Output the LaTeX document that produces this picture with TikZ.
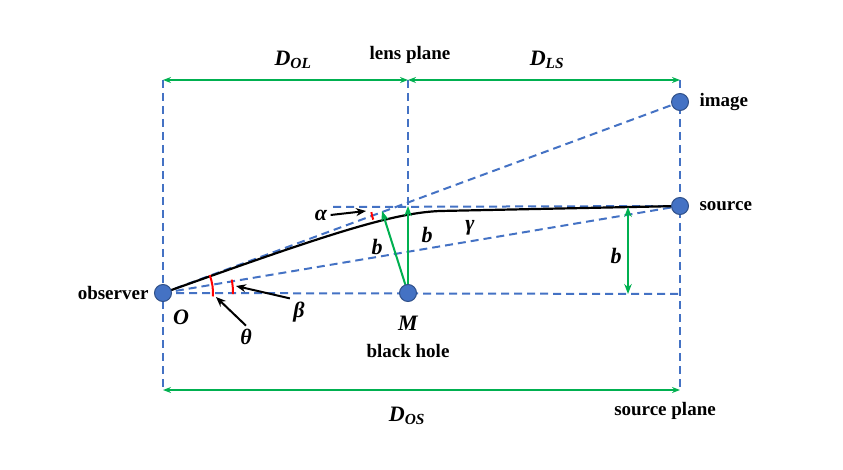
\documentclass[tikz,border=0pt]{standalone}
\usepackage{fontspec}
\setmainfont{Liberation Serif}
\usetikzlibrary{arrows.meta}
\definecolor{dblue}{HTML}{4472C4}
\definecolor{dgreen}{HTML}{00B050}
\begin{document}
\begin{tikzpicture}[x=1pt,y=1pt,
  dsh/.style={draw=dblue,line width=2pt,dash pattern=on 8pt off 5pt},
  grn/.style={draw=dgreen,line width=2pt},
  dot/.style={circle,fill=dblue,draw=dblue!70!black,line width=1pt,minimum size=17pt,inner sep=0pt},
  lbl/.style={font=\fontsize{19}{22}\selectfont\bfseries},
  mth/.style={font=\fontsize{22}{24}\selectfont\bfseries\itshape},
  redarc/.style={draw=red,line width=2pt},
  ar/.style={-{Stealth[length=10pt,width=8pt]},line width=2pt}]
\useasboundingbox (0,0) rectangle (843,469);
\coordinate (O) at (163,176);
\coordinate (M) at (408,176);
\coordinate (I) at (680,367);
\coordinate (S) at (680,263);
% frames
\draw[dsh] (163,389) -- (163,79);
\draw[dsh] (408,389) -- (408,179);
\draw[dsh] (680,389) -- (680,79);
\draw[dsh] (O) -- (680,175);
\draw[dsh] (O) -- (I);
\draw[dsh] (O) -- (S);
\draw[dsh] (333,262) -- (S);
% dimension arrows
\coordinate (t1) at (163,389); \coordinate (t2) at (408,389); \coordinate (t3) at (680,389);
\draw[grn,{Stealth[length=8pt]}-{Stealth[length=8pt]}] (t1) -- (t2);
\draw[grn,{Stealth[length=8pt]}-{Stealth[length=8pt]}] (t2) -- (t3);
\coordinate (b1) at (163,79); \coordinate (b2) at (680,79);
\draw[grn,{Stealth[length=8pt]}-{Stealth[length=8pt]}] (b1) -- (b2);
% light path
\draw[line width=2.2pt] (O) .. controls (320,232) and (390,256) .. (440,258) -- (S);
% b arrows
\coordinate (p1) at (408,263); \coordinate (p2) at (382,258);
\draw[grn,-{Stealth[length=10pt]}] (M) -- (p1);
\draw[grn,-{Stealth[length=10pt]}] (M) -- (p2);
\coordinate (q1) at (628,262); \coordinate (q2) at (628,175);
\draw[grn,{Stealth[length=10pt]}-{Stealth[length=10pt]}] (q1) -- (q2);
% angles
\draw[redarc] ([shift={(-4:50)}]O) arc (-4:21:50);
\draw[redarc] ([shift={(-1:70)}]O) arc (-1:11:70);
\draw[redarc] ([shift={(188:37)}]408,262) arc (188:200:37);
% dots
\node[dot] (obs) at (O) {};
\node[dot] (bh) at (M) {};
\node[dot] (img) at (I) {};
\node[dot] (src) at (S) {};
% labels
\node[lbl,anchor=east] at (152,176) {observer};
\node[lbl,anchor=west] at (696,367) {image};
\node[lbl,anchor=west] at (696,263) {source};
\node[lbl] at (408,118) {black hole};
\node[lbl] at (410,414) {lens plane};
\node[lbl] at (665,58) {source plane};
\node[mth] at (181,152) {O};
\node[mth] at (408,146) {M};
\node[mth] at (293,409) {D\textsubscript{OL}};
\node[mth] at (547,409) {D\textsubscript{LS}};
\node[mth] at (407,53) {D\textsubscript{OS}};
\node[mth] (al) at (321,254) {α};
\node[mth] (be) at (299,157) {β};
\node[mth] (th) at (246,132) {θ};
\node[mth] at (470,241) {γ};
\node[mth] at (377,222) {b};
\node[mth] at (427,234) {b};
\node[mth] at (616,213) {b};
\coordinate (aa) at (366,258); \coordinate (ba) at (236,183); \coordinate (ta) at (216,172);
\draw[ar] (al.east) -- (aa);
\draw[ar] (be.north west) -- (ba);
\draw[ar] (th.north) -- (ta);
\end{tikzpicture}
\end{document}
